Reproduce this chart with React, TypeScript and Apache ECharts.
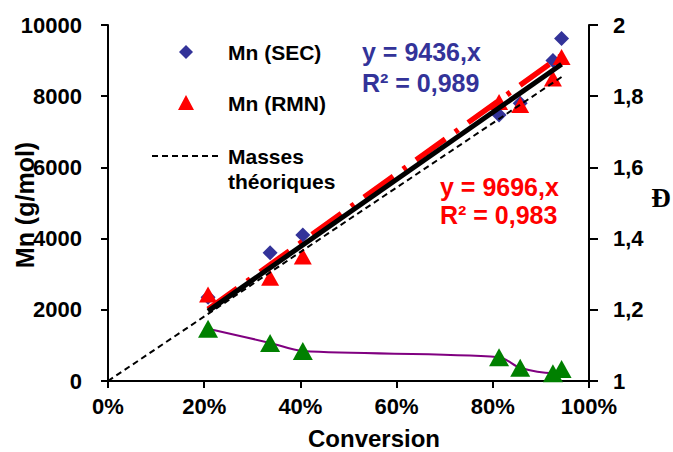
import React, { useEffect, useRef } from "react";
import * as echarts from "echarts";

const conversion = [0.208, 0.337, 0.405, 0.813, 0.857, 0.925, 0.943];
const mnSEC = [2350, 3600, 4100, 7470, 7800, 9000, 9620];
const mnRMN = [2430, 2900, 3500, 7840, 7750, 8500, 9100];
const dispersity = [1.147, 1.107, 1.084, 1.067, 1.037, 1.022, 1.034];
const theoConv = [0, 0.943];
const theoMn = [0, 8540];
const slopeSEC = 9436;
const slopeRMN = 9696;
const trendRange = [0.208, 0.943];
const xTicks = [0, 0.2, 0.4, 0.6, 0.8, 1];

const FONT = "Liberation Sans, Arial, sans-serif";

export default function App() {
  const ref = useRef<HTMLDivElement>(null);
  useEffect(() => {
    if (!ref.current) return;
    const chart = echarts.init(ref.current, undefined, { renderer: "svg" });
    const zip = (xs: number[], ys: number[]) => xs.map((x, i) => [x, ys[i]]);
    const dPoints = zip(conversion, dispersity).sort((a, b) => a[0] - b[0]);
    const boldText = (
      text: string,
      x: number,
      y: number,
      size: number,
      fill: string,
      extra: any = {}
    ) => ({
      type: "text",
      x,
      y,
      z: 100,
      ...extra,
      style: {
        text,
        fill,
        fontSize: size,
        fontWeight: "bold",
        fontFamily: FONT,
        verticalAlign: "middle",
        align: "left",
        ...(extra.style || {}),
      },
    });
    chart.setOption({
      animation: false,
      backgroundColor: "#ffffff",
      grid: { left: 108, right: 84, top: 25, bottom: 71 },
      xAxis: {
        type: "value",
        min: xTicks[0],
        max: xTicks[xTicks.length - 1],
        interval: 0.2,
        axisLine: { show: true, lineStyle: { color: "#000", width: 2 } },
        axisTick: { show: true, inside: false, length: 7, lineStyle: { color: "#000", width: 2 } },
        splitLine: { show: false },
        axisLabel: {
          margin: 14,
          color: "#000",
          fontSize: 22,
          fontWeight: "bold",
          fontFamily: FONT,
          formatter: (v: number) => Math.round(v * 100) + "%",
        },
      },
      yAxis: [
        {
          type: "value",
          min: 0,
          max: 10000,
          interval: 2000,
          axisLine: { show: true, lineStyle: { color: "#000", width: 2 } },
          axisTick: { show: true, inside: false, length: 7, lineStyle: { color: "#000", width: 2 } },
          splitLine: { show: false },
          axisLabel: {
            margin: 26,
            color: "#000",
            fontSize: 22,
            fontWeight: "bold",
            fontFamily: FONT,
            formatter: (v: number) => String(v),
          },
        },
        {
          type: "value",
          position: "right",
          min: 1,
          max: 2,
          interval: 0.2,
          axisLine: { show: true, lineStyle: { color: "#000", width: 2 } },
          axisTick: { show: true, inside: false, length: 9, lineStyle: { color: "#000", width: 2 } },
          splitLine: { show: false },
          axisLabel: {
            margin: 24,
            color: "#000",
            fontSize: 22,
            fontWeight: "bold",
            fontFamily: FONT,
            formatter: (v: number) => String(Math.round(v * 10) / 10).replace(".", ","),
          },
        },
      ],
      series: [
        {
          type: "line",
          yAxisIndex: 1,
          data: dPoints,
          smooth: 0.3,
          symbol: "triangle",
          symbolSize: [20, 18],
          itemStyle: { color: "#008000", opacity: 1 },
          lineStyle: { color: "#800080", width: 2 },
          z: 3,
        },
        {
          type: "scatter",
          data: zip(conversion, mnSEC),
          symbol: "diamond",
          symbolSize: 15,
          itemStyle: { color: "#333399", opacity: 1 },
          z: 3,
        },
        {
          type: "scatter",
          data: zip(conversion, mnRMN),
          symbol: "triangle",
          symbolSize: [18, 16],
          itemStyle: { color: "#ff0000", opacity: 1 },
          z: 3,
        },
        {
          type: "line",
          data: zip(theoConv, theoMn),
          symbol: "none",
          lineStyle: { color: "#000", width: 2, type: [6, 4] },
          z: 4,
        },
        {
          type: "line",
          data: trendRange.map((x) => [x, slopeRMN * x]),
          symbol: "none",
          lineStyle: { color: "#ff0000", width: 5.5, type: [36, 12, 4, 12], cap: "butt" },
          z: 4,
        },
        {
          type: "line",
          data: trendRange.map((x) => [x, slopeSEC * x]),
          symbol: "none",
          lineStyle: { color: "#000", width: 5 },
          z: 5,
        },
      ],
      graphic: [
        {
          type: "polygon",
          z: 100,
          shape: { points: [[186, 45], [193, 52], [186, 59], [179, 52]] },
          style: { fill: "#333399" },
        },
        {
          type: "polygon",
          z: 100,
          shape: { points: [[186, 95], [194, 110], [178, 110]] },
          style: { fill: "#ff0000" },
        },
        {
          type: "line",
          z: 100,
          shape: { x1: 152, y1: 156, x2: 219, y2: 156 },
          style: { stroke: "#000", lineWidth: 2, lineDash: [6, 4] },
        },
        boldText("Mn (SEC)", 228, 52, 21, "#000"),
        boldText("Mn (RMN)", 228, 103, 21, "#000"),
        boldText("Masses", 228, 156, 21, "#000"),
        boldText("théoriques", 228, 181, 21, "#000"),
        boldText("y = 9436,x", 362, 52, 25, "#333399"),
        boldText("R² = 0,989", 362, 83, 25, "#333399"),
        boldText("y = 9696,x", 440, 187, 25, "#ff0000"),
        boldText("R² = 0,983", 440, 215, 25, "#ff0000"),
        boldText("Conversion", 374, 438, 24, "#000", { style: { align: "center" } }),
        boldText("Mn (g/mol)", 25, 205, 25, "#000", {
          rotation: Math.PI / 2,
          style: { align: "center" },
        }),
        {
          type: "text",
          x: 661,
          y: 198,
          z: 100,
          style: {
            text: "Đ",
            fill: "#000",
            fontSize: 27,
            fontWeight: "bold",
            fontFamily: "Liberation Serif, Times New Roman, serif",
            align: "center",
            verticalAlign: "middle",
          },
        },
      ],
    });
    return () => chart.dispose();
  }, []);
  return (
    <div
      ref={ref}
      style={{ position: "absolute", left: 0, top: 0, width: 673, height: 452 }}
    />
  );
}
